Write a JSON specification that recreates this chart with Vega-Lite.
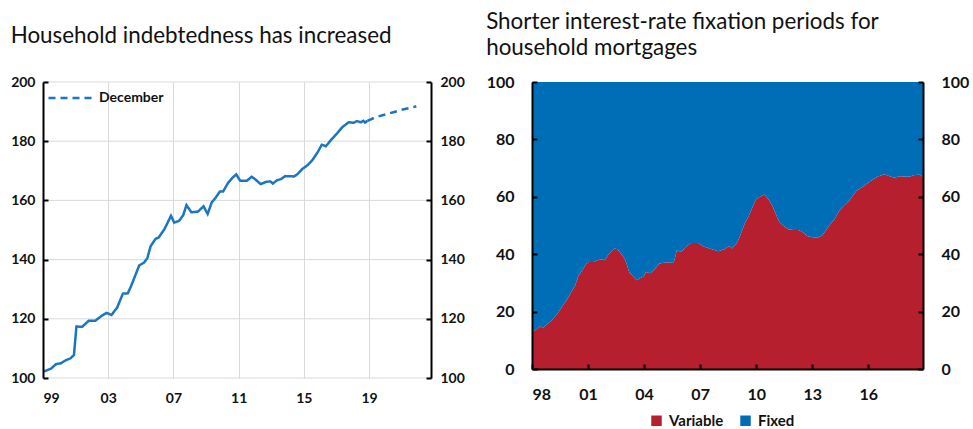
{
  "$schema": "https://vega.github.io/schema/vega-lite/v6.json",
  "background": "white",
  "padding": {"left": 10, "top": 10, "right": 5, "bottom": 0},
  "spacing": 21,
  "config": {"font": "Lato", "view": {"stroke": null}},
  "resolve": {"legend": {"color": "independent", "strokeDash": "independent"}},
  "hconcat": [
    {
      "width": 388,
      "height": 296,
      "title": {"text": "Household indebtedness has increased", "anchor": "start", "frame": "bounds", "fontSize": 22.4, "fontWeight": "normal", "color": "#111111", "offset": 28},
      "layer": [
        {
          "data": {"values": [{"g": 100}, {"g": 120}, {"g": 140}, {"g": 160}, {"g": 180}, {"g": 200}]},
          "mark": {"type": "rule", "color": "#d9d9d9", "strokeWidth": 1},
          "encoding": {
            "y": {"field": "g", "type": "quantitative", "axis": null}
          }
        },
        {
          "data": {"values": [
            {"t": 1999.0, "v": 102.2, "s": "Actual"},
            {"t": 1999.2, "v": 102.5, "s": "Actual"},
            {"t": 1999.5, "v": 103.2, "s": "Actual"},
            {"t": 1999.8, "v": 104.7, "s": "Actual"},
            {"t": 2000.1, "v": 105.0, "s": "Actual"},
            {"t": 2000.4, "v": 106.0, "s": "Actual"},
            {"t": 2000.7, "v": 106.7, "s": "Actual"},
            {"t": 2000.9, "v": 107.8, "s": "Actual"},
            {"t": 2001.05, "v": 117.4, "s": "Actual"},
            {"t": 2001.4, "v": 117.3, "s": "Actual"},
            {"t": 2001.8, "v": 119.3, "s": "Actual"},
            {"t": 2002.2, "v": 119.3, "s": "Actual"},
            {"t": 2002.6, "v": 121.0, "s": "Actual"},
            {"t": 2002.9, "v": 122.0, "s": "Actual"},
            {"t": 2003.2, "v": 121.3, "s": "Actual"},
            {"t": 2003.55, "v": 123.8, "s": "Actual"},
            {"t": 2003.9, "v": 128.5, "s": "Actual"},
            {"t": 2004.2, "v": 128.6, "s": "Actual"},
            {"t": 2004.4, "v": 131.0, "s": "Actual"},
            {"t": 2004.65, "v": 134.5, "s": "Actual"},
            {"t": 2004.9, "v": 138.0, "s": "Actual"},
            {"t": 2005.2, "v": 139.0, "s": "Actual"},
            {"t": 2005.4, "v": 140.5, "s": "Actual"},
            {"t": 2005.6, "v": 144.5, "s": "Actual"},
            {"t": 2005.9, "v": 147.0, "s": "Actual"},
            {"t": 2006.1, "v": 147.5, "s": "Actual"},
            {"t": 2006.45, "v": 150.3, "s": "Actual"},
            {"t": 2006.85, "v": 154.8, "s": "Actual"},
            {"t": 2007.05, "v": 152.5, "s": "Actual"},
            {"t": 2007.35, "v": 153.1, "s": "Actual"},
            {"t": 2007.6, "v": 155.0, "s": "Actual"},
            {"t": 2007.8, "v": 158.4, "s": "Actual"},
            {"t": 2008.1, "v": 156.0, "s": "Actual"},
            {"t": 2008.5, "v": 156.2, "s": "Actual"},
            {"t": 2008.85, "v": 158.0, "s": "Actual"},
            {"t": 2009.1, "v": 155.4, "s": "Actual"},
            {"t": 2009.35, "v": 159.3, "s": "Actual"},
            {"t": 2009.6, "v": 161.0, "s": "Actual"},
            {"t": 2009.85, "v": 163.0, "s": "Actual"},
            {"t": 2010.05, "v": 163.0, "s": "Actual"},
            {"t": 2010.35, "v": 165.9, "s": "Actual"},
            {"t": 2010.6, "v": 167.5, "s": "Actual"},
            {"t": 2010.85, "v": 168.8, "s": "Actual"},
            {"t": 2011.1, "v": 166.6, "s": "Actual"},
            {"t": 2011.5, "v": 166.6, "s": "Actual"},
            {"t": 2011.8, "v": 168.0, "s": "Actual"},
            {"t": 2012.05, "v": 167.0, "s": "Actual"},
            {"t": 2012.35, "v": 165.5, "s": "Actual"},
            {"t": 2012.7, "v": 166.3, "s": "Actual"},
            {"t": 2012.95, "v": 166.4, "s": "Actual"},
            {"t": 2013.1, "v": 165.7, "s": "Actual"},
            {"t": 2013.35, "v": 166.8, "s": "Actual"},
            {"t": 2013.6, "v": 167.2, "s": "Actual"},
            {"t": 2013.85, "v": 168.2, "s": "Actual"},
            {"t": 2014.4, "v": 168.1, "s": "Actual"},
            {"t": 2014.6, "v": 168.8, "s": "Actual"},
            {"t": 2014.9, "v": 170.6, "s": "Actual"},
            {"t": 2015.25, "v": 172.0, "s": "Actual"},
            {"t": 2015.55, "v": 173.8, "s": "Actual"},
            {"t": 2015.85, "v": 176.3, "s": "Actual"},
            {"t": 2016.1, "v": 178.8, "s": "Actual"},
            {"t": 2016.35, "v": 178.3, "s": "Actual"},
            {"t": 2016.65, "v": 180.3, "s": "Actual"},
            {"t": 2017.0, "v": 182.4, "s": "Actual"},
            {"t": 2017.35, "v": 184.7, "s": "Actual"},
            {"t": 2017.75, "v": 186.4, "s": "Actual"},
            {"t": 2018.05, "v": 186.2, "s": "Actual"},
            {"t": 2018.25, "v": 186.8, "s": "Actual"},
            {"t": 2018.5, "v": 186.4, "s": "Actual"},
            {"t": 2018.65, "v": 186.9, "s": "Actual"},
            {"t": 2018.75, "v": 186.3, "s": "Actual"},
            {"t": 2018.9, "v": 186.9, "s": "Actual"},
            {"t": 2018.9, "v": 186.9, "s": "December"},
            {"t": 2019.4, "v": 188.1, "s": "December"},
            {"t": 2020.0, "v": 189.0, "s": "December"},
            {"t": 2020.5, "v": 189.8, "s": "December"},
            {"t": 2021.0, "v": 190.6, "s": "December"},
            {"t": 2021.5, "v": 191.2, "s": "December"},
            {"t": 2021.9, "v": 191.8, "s": "December"}
          ]},
          "layer": [
            {
              "mark": {"type": "line", "strokeWidth": 2.5, "color": "#1B75C0"},
              "encoding": {
                "x": {"field": "t", "type": "quantitative",
                  "scale": {"domain": [1999, 2022.8], "nice": false, "zero": false},
                  "axis": {"title": null, "values": [1999, 2003, 2007, 2011, 2015, 2019], "labelExpr": "substring(toString(datum.value), 2, 4)", "domain": false, "ticks": false, "grid": true, "gridColor": "#d9d9d9", "gridWidth": 1, "labelFontSize": 14, "labelFontWeight": "bold", "labelColor": "#111111", "labelPadding": 13, "zindex": 0}},
                "y": {"field": "v", "type": "quantitative",
                  "scale": {"domain": [100, 200], "nice": false, "zero": false},
                  "axis": {"title": null, "orient": "left", "values": [100, 120, 140, 160, 180, 200], "domain": true, "domainColor": "#000000", "domainWidth": 2, "ticks": true, "tickSize": -5, "tickColor": "#000000", "tickWidth": 2, "grid": false, "labelFontSize": 14, "labelFontWeight": "bold", "labelColor": "#111111", "labelPadding": 13, "zindex": 1}},
                "strokeDash": {"field": "s", "type": "nominal",
                  "scale": {"domain": ["Actual", "December"], "range": [[1, 0], [7, 5]]},
                  "legend": {"values": ["December"], "title": null, "orient": "none", "legendX": 4, "legendY": -7, "symbolType": "stroke", "symbolSize": 1849, "symbolStrokeWidth": 2.5, "symbolStrokeColor": "#1B75C0", "labelFontSize": 14, "labelFontWeight": "bold", "labelColor": "#111111", "labelOffset": 6}}
              }
            },
            {
              "mark": {"type": "line", "opacity": 0},
              "encoding": {
                "x": {"field": "t", "type": "quantitative"},
                "y": {"field": "v", "type": "quantitative",
                  "axis": {"title": null, "orient": "right", "values": [100, 120, 140, 160, 180, 200], "domain": true, "domainColor": "#000000", "domainWidth": 2, "ticks": true, "tickSize": -5, "tickColor": "#000000", "tickWidth": 2, "grid": false, "labelFontSize": 14, "labelFontWeight": "bold", "labelColor": "#111111", "labelPadding": 14, "zindex": 1}}
              }
            }
          ]
        }
      ],
      "resolve": {"scale": {"y": "shared"}, "axis": {"y": "independent"}}
    },
    {
      "width": 391,
      "height": 287,
      "title": {"text": ["Shorter interest-rate fixation periods for", "household mortgages"], "anchor": "start", "frame": "bounds", "fontSize": 22.4, "fontWeight": "normal", "color": "#111111", "lineHeight": 26, "offset": 15},
      "data": {"values": [
        {"t": 1998.0, "Variable": 12.8, "Fixed": 87.2},
        {"t": 1998.27, "Variable": 14.0, "Fixed": 86.0},
        {"t": 1998.45, "Variable": 14.9, "Fixed": 85.1},
        {"t": 1998.57, "Variable": 14.3, "Fixed": 85.7},
        {"t": 1998.8, "Variable": 15.5, "Fixed": 84.5},
        {"t": 1999.08, "Variable": 17.2, "Fixed": 82.8},
        {"t": 1999.35, "Variable": 19.2, "Fixed": 80.8},
        {"t": 1999.6, "Variable": 21.6, "Fixed": 78.4},
        {"t": 1999.9, "Variable": 24.5, "Fixed": 75.5},
        {"t": 2000.15, "Variable": 27.4, "Fixed": 72.6},
        {"t": 2000.3, "Variable": 28.9, "Fixed": 71.1},
        {"t": 2000.48, "Variable": 32.3, "Fixed": 67.7},
        {"t": 2000.7, "Variable": 34.4, "Fixed": 65.6},
        {"t": 2000.9, "Variable": 36.7, "Fixed": 63.3},
        {"t": 2001.05, "Variable": 37.3, "Fixed": 62.7},
        {"t": 2001.3, "Variable": 37.3, "Fixed": 62.7},
        {"t": 2001.5, "Variable": 37.9, "Fixed": 62.1},
        {"t": 2001.75, "Variable": 38.2, "Fixed": 61.8},
        {"t": 2001.9, "Variable": 37.9, "Fixed": 62.1},
        {"t": 2002.1, "Variable": 40.0, "Fixed": 60.0},
        {"t": 2002.4, "Variable": 42.0, "Fixed": 58.0},
        {"t": 2002.58, "Variable": 41.7, "Fixed": 58.3},
        {"t": 2002.8, "Variable": 39.9, "Fixed": 60.1},
        {"t": 2003.0, "Variable": 37.9, "Fixed": 62.1},
        {"t": 2003.2, "Variable": 33.8, "Fixed": 66.2},
        {"t": 2003.4, "Variable": 32.3, "Fixed": 67.7},
        {"t": 2003.6, "Variable": 30.9, "Fixed": 69.1},
        {"t": 2003.83, "Variable": 31.8, "Fixed": 68.2},
        {"t": 2003.98, "Variable": 32.3, "Fixed": 67.7},
        {"t": 2004.1, "Variable": 33.8, "Fixed": 66.2},
        {"t": 2004.34, "Variable": 33.4, "Fixed": 66.6},
        {"t": 2004.55, "Variable": 34.6, "Fixed": 65.4},
        {"t": 2004.8, "Variable": 36.7, "Fixed": 63.3},
        {"t": 2004.97, "Variable": 36.9, "Fixed": 63.1},
        {"t": 2005.27, "Variable": 37.2, "Fixed": 62.8},
        {"t": 2005.58, "Variable": 36.9, "Fixed": 63.1},
        {"t": 2005.76, "Variable": 41.4, "Fixed": 58.6},
        {"t": 2006.0, "Variable": 40.8, "Fixed": 59.2},
        {"t": 2006.2, "Variable": 42.3, "Fixed": 57.7},
        {"t": 2006.5, "Variable": 43.9, "Fixed": 56.1},
        {"t": 2006.9, "Variable": 43.9, "Fixed": 56.1},
        {"t": 2007.15, "Variable": 42.8, "Fixed": 57.2},
        {"t": 2007.5, "Variable": 42.0, "Fixed": 58.0},
        {"t": 2007.97, "Variable": 41.0, "Fixed": 59.0},
        {"t": 2008.3, "Variable": 41.7, "Fixed": 58.3},
        {"t": 2008.55, "Variable": 42.9, "Fixed": 57.1},
        {"t": 2008.7, "Variable": 42.0, "Fixed": 58.0},
        {"t": 2008.95, "Variable": 43.7, "Fixed": 56.3},
        {"t": 2009.05, "Variable": 45.0, "Fixed": 55.0},
        {"t": 2009.2, "Variable": 47.5, "Fixed": 52.5},
        {"t": 2009.4, "Variable": 50.9, "Fixed": 49.1},
        {"t": 2009.6, "Variable": 53.3, "Fixed": 46.7},
        {"t": 2009.77, "Variable": 55.8, "Fixed": 44.2},
        {"t": 2009.98, "Variable": 59.1, "Fixed": 40.9},
        {"t": 2010.2, "Variable": 60.0, "Fixed": 40.0},
        {"t": 2010.45, "Variable": 60.8, "Fixed": 39.2},
        {"t": 2010.66, "Variable": 59.1, "Fixed": 40.9},
        {"t": 2010.88, "Variable": 56.7, "Fixed": 43.3},
        {"t": 2011.06, "Variable": 53.8, "Fixed": 46.2},
        {"t": 2011.24, "Variable": 51.2, "Fixed": 48.8},
        {"t": 2011.47, "Variable": 49.8, "Fixed": 50.2},
        {"t": 2011.74, "Variable": 48.6, "Fixed": 51.4},
        {"t": 2012.0, "Variable": 48.4, "Fixed": 51.6},
        {"t": 2012.25, "Variable": 48.4, "Fixed": 51.6},
        {"t": 2012.46, "Variable": 47.8, "Fixed": 52.2},
        {"t": 2012.73, "Variable": 46.3, "Fixed": 53.7},
        {"t": 2013.0, "Variable": 45.9, "Fixed": 54.1},
        {"t": 2013.27, "Variable": 45.7, "Fixed": 54.3},
        {"t": 2013.54, "Variable": 46.6, "Fixed": 53.4},
        {"t": 2013.75, "Variable": 48.4, "Fixed": 51.6},
        {"t": 2013.99, "Variable": 50.7, "Fixed": 49.3},
        {"t": 2014.2, "Variable": 52.3, "Fixed": 47.7},
        {"t": 2014.47, "Variable": 55.3, "Fixed": 44.7},
        {"t": 2014.7, "Variable": 57.0, "Fixed": 43.0},
        {"t": 2014.97, "Variable": 58.5, "Fixed": 41.5},
        {"t": 2015.15, "Variable": 60.2, "Fixed": 39.8},
        {"t": 2015.36, "Variable": 62.0, "Fixed": 38.0},
        {"t": 2015.7, "Variable": 63.5, "Fixed": 36.5},
        {"t": 2015.97, "Variable": 64.7, "Fixed": 35.3},
        {"t": 2016.24, "Variable": 66.0, "Fixed": 34.0},
        {"t": 2016.56, "Variable": 67.2, "Fixed": 32.8},
        {"t": 2016.87, "Variable": 67.9, "Fixed": 32.1},
        {"t": 2017.14, "Variable": 67.2, "Fixed": 32.8},
        {"t": 2017.4, "Variable": 66.6, "Fixed": 33.4},
        {"t": 2017.67, "Variable": 67.2, "Fixed": 32.8},
        {"t": 2018.2, "Variable": 67.0, "Fixed": 33.0},
        {"t": 2018.48, "Variable": 67.6, "Fixed": 32.4},
        {"t": 2018.75, "Variable": 67.7, "Fixed": 32.3},
        {"t": 2018.93, "Variable": 67.0, "Fixed": 33.0}
      ]},
      "transform": [{"fold": ["Variable", "Fixed"], "as": ["key", "share"]}],
      "layer": [
        {
          "mark": {"type": "area", "interpolate": "linear"},
          "encoding": {
            "x": {"field": "t", "type": "quantitative",
              "scale": {"domain": [1998, 2018.93], "nice": false, "zero": false},
              "axis": {"title": null, "values": [1998, 2001, 2004, 2007, 2010, 2013, 2016], "labelExpr": "substring(toString(datum.value), 2, 4)", "domain": true, "domainColor": "#000000", "domainWidth": 2, "ticks": true, "tickSize": -5, "tickColor": "#000000", "tickWidth": 2, "grid": false, "labelFontSize": 16, "labelFontWeight": "bold", "labelColor": "#111111", "labelPadding": 22, "zindex": 1}},
            "y": {"field": "share", "type": "quantitative", "stack": "zero",
              "scale": {"domain": [0, 100], "nice": false},
              "axis": {"title": null, "orient": "left", "values": [0, 20, 40, 60, 80, 100], "domain": true, "domainColor": "#000000", "domainWidth": 2, "ticks": true, "tickSize": -5, "tickColor": "#000000", "tickWidth": 2, "grid": false, "labelFontSize": 16, "labelFontWeight": "bold", "labelColor": "#111111", "labelPadding": 23, "zindex": 1}},
            "color": {"field": "key", "type": "nominal",
              "scale": {"domain": ["Variable", "Fixed"], "range": ["#B61F2D", "#006EB6"]},
              "legend": {"title": null, "orient": "none", "direction": "horizontal", "legendX": 117, "legendY": 331, "symbolType": "square", "symbolSize": 110, "symbolStrokeWidth": 0, "symbolOpacity": 1, "labelFontSize": 15, "labelFontWeight": "bold", "labelColor": "#111111", "labelOffset": 5, "columnPadding": 14}},
            "order": {"field": "key", "sort": "descending"}
          }
        },
        {
          "mark": {"type": "area", "opacity": 0},
          "encoding": {
            "x": {"field": "t", "type": "quantitative"},
            "y": {"field": "share", "type": "quantitative", "stack": "zero",
              "axis": {"title": null, "orient": "right", "values": [0, 20, 40, 60, 80, 100], "domain": true, "domainColor": "#000000", "domainWidth": 2, "ticks": true, "tickSize": -5, "tickColor": "#000000", "tickWidth": 2, "grid": false, "labelFontSize": 16, "labelFontWeight": "bold", "labelColor": "#111111", "labelPadding": 23, "zindex": 1}}
          }
        }
      ],
      "resolve": {"scale": {"y": "shared"}, "axis": {"y": "independent"}}
    }
  ]
}
